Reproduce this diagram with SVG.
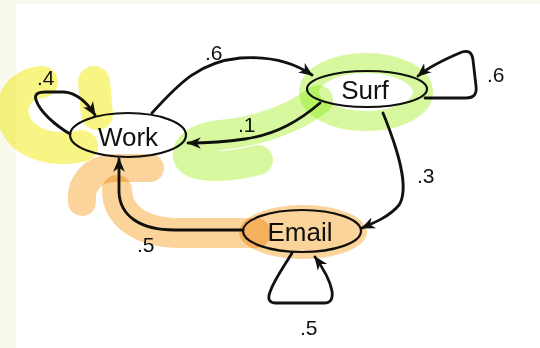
<svg xmlns="http://www.w3.org/2000/svg" width="540" height="348" viewBox="0 0 540 348">
  <defs>
    <marker id="arrow" viewBox="0 0 12 10" refX="11" refY="5" markerWidth="5" markerHeight="5" orient="auto" markerUnits="strokeWidth">
      <path d="M0,0 L12,5 L0,10 L3.5,5 Z" fill="#111"/>
    </marker>
    <style>
      .edge { fill: none; stroke: #111; stroke-width: 2.8; stroke-linecap: round; stroke-linejoin: round; marker-end: url(#arrow); }
      .node { fill: #fff; stroke: #111; stroke-width: 2.2; }
      .label { font-family: "Liberation Sans", Arial, sans-serif; font-size: 26px; fill: #111; text-anchor: middle; }
      .prob { font-family: "Liberation Sans", Arial, sans-serif; font-size: 21px; fill: #111; }
      .hl { fill: none; stroke-linecap: round; stroke-linejoin: round; mix-blend-mode: multiply; }
      .yellow { stroke: #f9f585; }
      .green { stroke: #d8f8a0; }
      .orange { stroke: #fad49a; }
      .orange-fill { fill: #fad49a; mix-blend-mode: multiply; }
    </style>
  </defs>

  <!-- page background with a cream margin on the left and top -->
  <rect x="0" y="0" width="540" height="348" fill="#f9f9ee"/>
  <rect x="16" y="4" width="524" height="344" fill="#fff"/>

  <!-- state nodes -->
  <g id="node-work">
    <ellipse class="node" cx="128" cy="135" rx="58" ry="22"/>
    <text class="label" x="128" y="146">Work</text>
  </g>
  <g id="node-surf">
    <ellipse class="node" cx="367" cy="89" rx="60" ry="18"/>
    <text class="label" x="365" y="99">Surf</text>
  </g>
  <g id="node-email">
    <ellipse class="node" cx="302" cy="231" rx="59" ry="21"/>
    <text class="label" x="300" y="241">Email</text>
  </g>

  <!-- transitions -->
  <g id="connectors">
    <!-- Work self-loop -->
    <path class="edge" d="M70,134 C55,125 40,112 36,100 C34,94 38,92 46,92 L64,92 C78,93 88,104 95,115"/>
    <!-- Work to Surf -->
    <path class="edge" d="M152,113 C180,82 200,62 240,58 C270,56 293,62 312,75"/>
    <!-- Surf to Work -->
    <path class="edge" d="M320,103 C300,120 278,134 245,139 C225,142 205,143 188,143"/>
    <!-- Surf self-loop -->
    <path class="edge" d="M425,98 L466,98 C474,98 477,94 476,86 L473,60 C472,52 468,50 462,52 C450,57 430,66 418,76"/>
    <!-- Surf to Email -->
    <path class="edge" d="M383,113 C398,150 410,188 399,205 C390,216 376,222 362,228"/>
    <!-- Email self-loop -->
    <path class="edge" d="M292,253 C285,265 274,280 270,292 C267,300 270,303 276,303 L324,303 C331,303 333,299 332,291 C330,280 323,268 315,257"/>
    <!-- Email to Work -->
    <path class="edge" d="M243,230 L175,230 C140,230 120,216 119,192 L119,159"/>

    <text class="prob" x="37" y="85">.4</text>
    <text class="prob" x="205" y="60">.6</text>
    <text class="prob" x="238" y="132">.1</text>
    <text class="prob" x="487" y="82">.6</text>
    <text class="prob" x="417" y="183">.3</text>
    <text class="prob" x="137" y="252">.5</text>
    <text class="prob" x="300" y="335">.5</text>
  </g>

  <!-- marker highlights, multiplied over the chain -->
  <g id="highlights">
    <path class="hl yellow" stroke-width="32" d="M42,82 C18,84 6,105 16,125 C26,145 55,152 82,146"/>
    <path class="hl yellow" stroke-width="32" d="M94,82 L97,114"/>
    <ellipse class="hl green" stroke-width="20" cx="366" cy="92" rx="57" ry="29"/>
    <path class="hl green" stroke-width="30" d="M318,100 C292,120 255,132 220,135 C195,138 182,150 190,160 C200,170 235,166 258,160"/>
    <ellipse class="orange-fill" cx="303" cy="232" rx="64" ry="27"/>
    <path class="hl orange" stroke-width="30" d="M256,233 L180,233 C140,233 117,215 117,190"/>
    <path class="hl orange" stroke-width="28" d="M82,202 C80,184 92,170 112,168 L150,168"/>
  </g>
</svg>
